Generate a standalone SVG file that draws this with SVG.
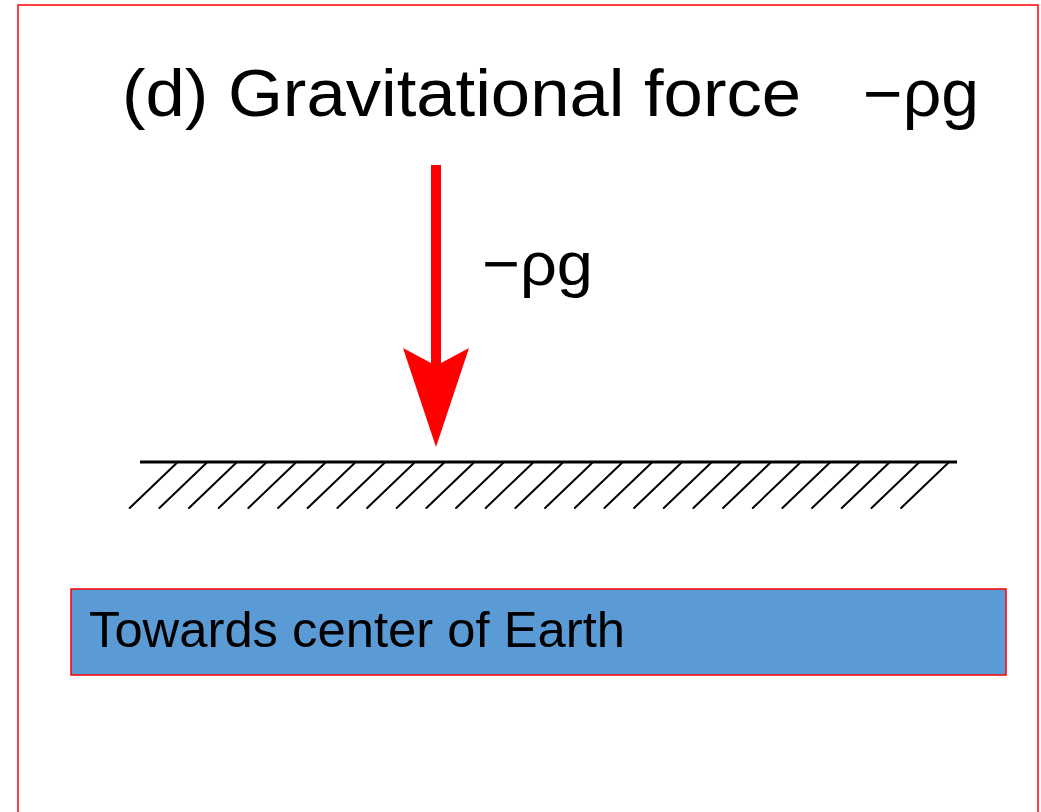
<svg xmlns="http://www.w3.org/2000/svg" width="1041" height="812" viewBox="0 0 1041 812">
<style>
.t{font-family:"Liberation Sans",Arial,sans-serif;fill:#000}
.red{fill:#ff0000}
.hatch{stroke:#000;stroke-width:2;fill:none;stroke-linecap:round}
</style>
<rect x="0" y="0" width="1041" height="812" fill="#fff"/>
<rect id="frame" x="18" y="5" width="1020" height="820" fill="none" stroke="#ff0000" stroke-width="1.5"/>
<g id="title">
<text class="t" x="122" y="116" font-size="66" textLength="679" lengthAdjust="spacingAndGlyphs">(d) Gravitational force</text>
<text class="t" x="863" y="116" font-size="66" textLength="116" lengthAdjust="spacingAndGlyphs">−ρg</text>
</g>
<g id="connectors">
<g id="arrow">
<rect class="red" x="431" y="165" width="10" height="200"/>
<path class="red" d="M403,348 L431,363 L441,363 L469,348 L436,447 Z"/>
</g>
</g>
<g id="arrow-label">
<text class="t" x="482" y="285" font-size="62" textLength="111" lengthAdjust="spacingAndGlyphs">−ρg</text>
</g>
<g id="ground">
<line x1="140" y1="462" x2="957" y2="462" stroke="#000" stroke-width="3"/>
<path class="hatch" d="M176.7,463 l-47,45 M206.4,463 l-47,45 M236,463 l-47,45 M265.7,463 l-47,45 M295.4,463 l-47,45 M325.1,463 l-47,45 M354.7,463 l-47,45 M384.4,463 l-47,45 M414.1,463 l-47,45 M443.7,463 l-47,45 M473.4,463 l-47,45 M503.1,463 l-47,45 M532.7,463 l-47,45 M562.4,463 l-47,45 M592.1,463 l-47,45 M621.8,463 l-47,45 M651.4,463 l-47,45 M681.1,463 l-47,45 M710.8,463 l-47,45 M740.4,463 l-47,45 M770.1,463 l-47,45 M799.8,463 l-47,45 M829.4,463 l-47,45 M859.1,463 l-47,45 M888.8,463 l-47,45 M918.5,463 l-47,45 M948.1,463 l-47,45"/>
</g>
<g id="caption">
<rect x="71" y="589" width="935" height="86" fill="#5b9bd5" stroke="#ff0000" stroke-width="1.5"/>
<text class="t" x="89" y="647" font-size="50" textLength="536" lengthAdjust="spacingAndGlyphs">Towards center of Earth</text>
</g>
</svg>
